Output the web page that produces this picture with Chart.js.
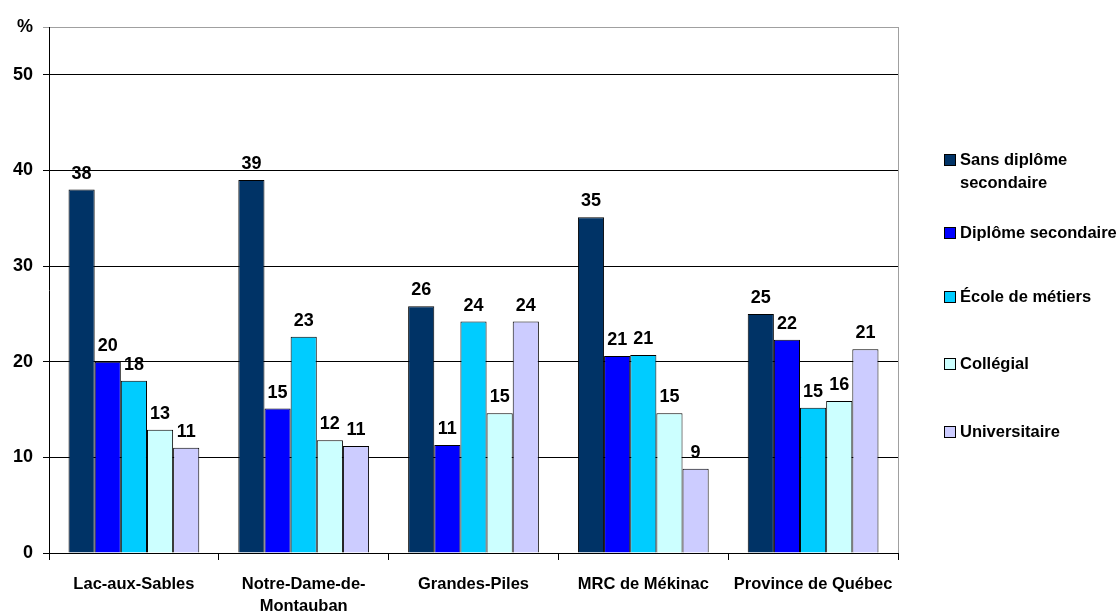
<!DOCTYPE html>
<html lang="fr">
<head>
<meta charset="utf-8">
<title>Plus haut niveau de scolarité atteint</title>
<script src="https://cdn.jsdelivr.net/npm/chart.js@4/dist/chart.umd.min.js"></script>
<style>
  body { margin: 0; background: #fff; }
  #wrap { width: 1118px; height: 615px; position: relative; }
</style>
</head>
<body>
<div id="wrap"><canvas id="scolarite"></canvas></div>
<script>
const categories = ['Lac-aux-Sables', ['Notre-Dame-de-', 'Montauban'], 'Grandes-Piles', 'MRC de Mékinac', 'Province de Québec'];

const seriesNames = [['Sans diplôme', 'secondaire'], ['Diplôme secondaire'], ['École de métiers'], ['Collégial'], ['Universitaire']];
const seriesColors = ['#003366', '#0000ff', '#00ccff', '#ccffff', '#ccccff'];

const sansDiplome       = [38.0, 39.0, 25.8, 35.1, 25.0];
const diplomeSecondaire = [20.0, 15.1, 11.3, 20.6, 22.3];
const ecoleMetiers      = [18.0, 22.6, 24.2, 20.7, 15.2];
const collegial         = [12.9, 11.8, 14.6, 14.6, 15.9];
const universitaire     = [11.0, 11.2, 24.2, 8.8, 21.3];

const yTicks = [0, 10, 20, 30, 40, 50];
const yMax = 55;

const FONT = '"Liberation Sans", Arial, sans-serif';

// value labels above each bar
const barValues = {
    id: 'barValues',
    afterDatasetsDraw(chart) {
        const ctx = chart.ctx;
        ctx.save();
        ctx.font = 'bold 18px ' + FONT;
        ctx.fillStyle = '#000';
        ctx.textAlign = 'center';
        ctx.textBaseline = 'alphabetic';
        chart.data.datasets.forEach((ds, i) => {
            chart.getDatasetMeta(i).data.forEach((bar, j) => {
                ctx.fillText(Math.round(ds.data[j]), bar.x, bar.y - 11);
            });
        });
        ctx.restore();
    }
};

// grey frame on the right side of the plot
const rightFrame = {
    id: 'rightFrame',
    afterDraw(chart) {
        const a = chart.chartArea;
        const ctx = chart.ctx;
        ctx.save();
        ctx.strokeStyle = '#a0a0a0';
        ctx.lineWidth = 1;
        ctx.beginPath();
        ctx.moveTo(Math.round(a.right) + 0.5, a.top);
        ctx.lineTo(Math.round(a.right) + 0.5, a.bottom);
        ctx.stroke();
        ctx.restore();
    }
};

// legend stacked on the right
const sideLegend = {
    id: 'sideLegend',
    afterDraw(chart) {
        const ctx = chart.ctx;
        const rows = [160, 233, 297, 364, 432];
        ctx.save();
        ctx.font = 'bold 16.5px ' + FONT;
        ctx.textBaseline = 'middle';
        ctx.textAlign = 'left';
        chart.data.datasets.forEach((ds, i) => {
            const y = rows[i];
            ctx.fillStyle = ds.backgroundColor;
            ctx.fillRect(944, y - 6, 12, 12);
            ctx.strokeStyle = '#000';
            ctx.lineWidth = 1;
            ctx.strokeRect(944.5, y - 5.5, 11, 11);
            ctx.fillStyle = '#000';
            seriesNames[i].forEach((line, k) => ctx.fillText(line, 960, y + k * 23));
        });
        ctx.restore();
    }
};

const seriesData = [sansDiplome, diplomeSecondaire, ecoleMetiers, collegial, universitaire];

new Chart(document.getElementById('scolarite'), {
    type: 'bar',
    data: {
        labels: categories,
        datasets: seriesData.map((values, i) => ({
            label: seriesNames[i].join(' '),
            data: values,
            backgroundColor: seriesColors[i],
            borderColor: '#000',
            borderWidth: 1,
            barPercentage: 1,
            categoryPercentage: 0.77
        }))
    },
    options: {
        responsive: true,
        maintainAspectRatio: false,
        animation: false,
        layout: { padding: { top: 27, right: 220, left: 0, bottom: 0 } },
        plugins: {
            legend: { display: false },
            tooltip: { enabled: false }
        },
        scales: {
            x: {
                afterFit: scale => { scale.height = 62; },
                grid: {
                    offset: true,
                    drawOnChartArea: false,
                    color: '#000',
                    tickLength: 7
                },
                border: { color: '#000', width: 1 },
                ticks: {
                    color: '#000',
                    padding: 14,
                    font: { family: FONT, size: 16.5, weight: 'bold', lineHeight: 1.3 },
                    maxRotation: 0
                }
            },
            y: {
                min: 0,
                max: yMax,
                afterFit: scale => { scale.width = 49; },
                afterBuildTicks: scale => {
                    scale.ticks = yTicks.concat([yMax]).map(v => ({ value: v }));
                },
                grid: {
                    color: c => (c.tick && c.tick.value === yMax ? '#a0a0a0' : '#000'),
                    tickLength: 6
                },
                border: { color: '#000', width: 1 },
                ticks: {
                    color: '#000',
                    padding: 10,
                    font: { family: FONT, size: 18, weight: 'bold' },
                    callback: v => (v === yMax ? '%' : v)
                }
            }
        }
    },
    plugins: [barValues, rightFrame, sideLegend]
});
</script>
</body>
</html>
